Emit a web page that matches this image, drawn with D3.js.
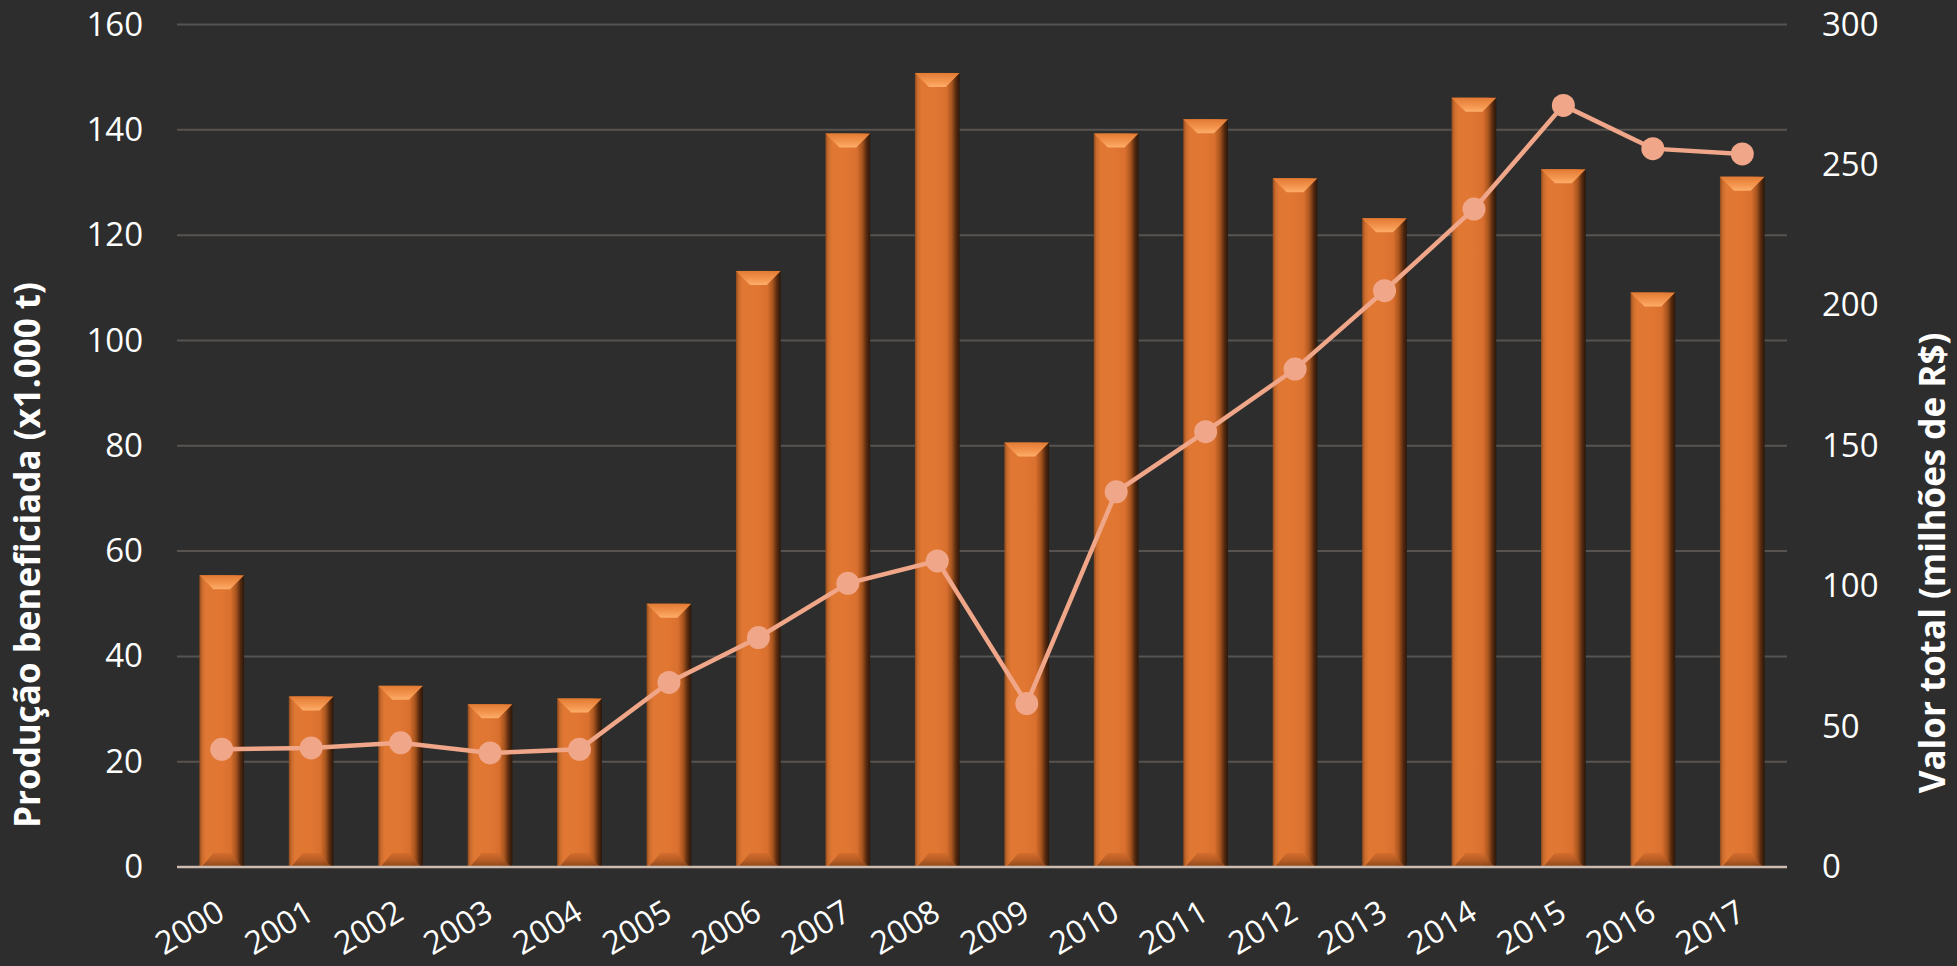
<!DOCTYPE html>
<html>
<head>
<meta charset="utf-8">
<script src="https://cdn.jsdelivr.net/npm/d3@7"></script>
<style>
  html, body { margin: 0; padding: 0; background: #2d2d2d; }
  svg { display: block; }
</style>
</head>
<body>
<div id="chart"></div>
<script>
  // data
  const years = ["2000","2001","2002","2003","2004","2005","2006","2007","2008",
                 "2009","2010","2011","2012","2013","2014","2015","2016","2017"];
  const producao = [55.4, 32.4, 34.4, 30.9, 32.0, 50.0, 113.2, 139.3, 150.8,
                    80.6, 139.3, 142.0, 130.8, 123.2, 146.1, 132.5, 109.1, 131.1];
  const valor = [41.9, 42.4, 44.2, 40.6, 41.9, 65.7, 81.7, 101.0, 109.0,
                 58.2, 133.6, 155.0, 177.3, 205.2, 234.3, 271.2, 255.8, 253.9];
  const leftTicks = [0, 20, 40, 60, 80, 100, 120, 140, 160];
  const rightTicks = [0, 50, 100, 150, 200, 250, 300];

  const W = 1957, H = 966;
  const margin = {top: 24.5, right: 170, bottom: 99, left: 177};
  const width = W - margin.left - margin.right,
        height = H - margin.top - margin.bottom;

  const font = "'Open Sans', 'Noto Sans', sans-serif";

  const svgRoot = d3.select("#chart")
    .append("svg")
      .attr("width", W)
      .attr("height", H);

  svgRoot.append("rect")
    .attr("width", W).attr("height", H)
    .attr("fill", "#2d2d2d");

  // gradients for the bevelled bars
  const defs = svgRoot.append("defs");
  const side = defs.append("linearGradient").attr("id", "barSide")
    .attr("x1", "0").attr("x2", "1").attr("y1", "0").attr("y2", "0");
  [[0, "#8f4a1c"], [0.06, "#c96b2d"], [0.15, "#e07833"], [0.5, "#e07632"],
   [0.7, "#da702f"], [0.82, "#a8551e"], [0.92, "#55290f"], [1, "#2a170a"]]
    .forEach(s => side.append("stop").attr("offset", s[0]).attr("stop-color", s[1]));

  const topG = defs.append("linearGradient").attr("id", "barTop")
    .attr("x1", "0").attr("x2", "0").attr("y1", "0").attr("y2", "1");
  [[0, "#e27a33"], [0.6, "#f4964f"], [1, "#fdae6a"]]
    .forEach(s => topG.append("stop").attr("offset", s[0]).attr("stop-color", s[1]));

  const botG = defs.append("linearGradient").attr("id", "barBot")
    .attr("x1", "0").attr("x2", "0").attr("y1", "0").attr("y2", "1");
  [[0, "#d06b2c"], [0.5, "#b25a24"], [1, "#7e3f17"]]
    .forEach(s => botG.append("stop").attr("offset", s[0]).attr("stop-color", s[1]));

  const svg = svgRoot.append("g")
    .attr("transform", `translate(${margin.left},${margin.top})`);

  // scales
  const x = d3.scaleBand()
    .domain(years)
    .range([0, width])
    .paddingInner(0.5)
    .paddingOuter(0.25);

  const y = d3.scaleLinear().domain([0, 160]).range([height, 0]);
  const y2 = d3.scaleLinear().domain([0, 300]).range([height, 0]);

  // gridlines
  svg.append("g")
    .selectAll("line")
    .data(leftTicks.filter(d => d > 0))
    .join("line")
      .attr("x1", 0).attr("x2", width)
      .attr("y1", d => y(d)).attr("y2", d => y(d))
      .attr("stroke", "#575350")
      .attr("stroke-width", 2);

  // left axis
  const yAxis = svg.append("g")
    .call(d3.axisLeft(y).tickValues(leftTicks).tickSize(0).tickPadding(34));
  yAxis.select(".domain").remove();
  yAxis.selectAll("text")
    .attr("fill", "#ffffff")
    .style("font-family", font)
    .style("font-size", "33px");

  // right axis
  const y2Axis = svg.append("g")
    .attr("transform", `translate(${width},0)`)
    .call(d3.axisRight(y2).tickValues(rightTicks).tickSize(0).tickPadding(35));
  y2Axis.select(".domain").remove();
  y2Axis.selectAll("text")
    .attr("fill", "#ffffff")
    .style("font-family", font)
    .style("font-size", "33px");

  // bars
  const bev = 14;
  const bw = x.bandwidth();
  const bars = svg.append("g")
    .selectAll("g")
    .data(years.map((yr, i) => ({yr, v: producao[i]})))
    .join("g");

  bars.append("rect")
    .attr("x", d => x(d.yr))
    .attr("y", d => y(d.v))
    .attr("width", bw)
    .attr("height", d => height - y(d.v))
    .attr("fill", "url(#barSide)");

  bars.append("path")
    .attr("d", d => {
      const x0 = x(d.yr), x1 = x0 + bw, t = y(d.v);
      return `M${x0},${t}L${x1},${t}L${x1 - bev},${t + bev}L${x0 + bev},${t + bev}Z`;
    })
    .attr("fill", "url(#barTop)");

  bars.append("path")
    .attr("d", d => {
      const x0 = x(d.yr), x1 = x0 + bw, b = height;
      return `M${x0 + 2},${b}L${x1 - 2},${b}L${x1 - bev},${b - bev}L${x0 + bev},${b - bev}Z`;
    })
    .attr("fill", "url(#barBot)")
    .attr("opacity", 0.85);

  // x axis baseline
  svg.append("line")
    .attr("x1", 0).attr("x2", width)
    .attr("y1", height).attr("y2", height)
    .attr("stroke", "#cdbcb0")
    .attr("stroke-width", 2.5);

  // x labels
  svg.append("g")
    .selectAll("text")
    .data(years)
    .join("text")
      .attr("transform", d => `translate(${x(d) + bw / 2 + 5},${height + 51}) rotate(-31)`)
      .attr("text-anchor", "end")
      .attr("fill", "#ffffff")
      .style("font-family", font)
      .style("font-size", "32px")
      .text(d => d);

  // line series on right axis
  const lineData = years.map((yr, i) => ({yr, v: valor[i]}));
  const line = d3.line()
    .x(d => x(d.yr) + bw / 2)
    .y(d => y2(d.v));

  svg.append("path")
    .datum(lineData)
    .attr("d", line)
    .attr("fill", "none")
    .attr("stroke", "#f0a688")
    .attr("stroke-width", 4.5);

  svg.append("g")
    .selectAll("circle")
    .data(lineData)
    .join("circle")
      .attr("cx", d => x(d.yr) + bw / 2)
      .attr("cy", d => y2(d.v))
      .attr("r", 11.5)
      .attr("fill", "#f0a688");

  // axis titles
  svgRoot.append("text")
    .attr("transform", "translate(40,555) rotate(-90)")
    .attr("text-anchor", "middle")
    .attr("fill", "#ffffff")
    .style("font-family", font)
    .style("font-weight", "bold")
    .style("font-size", "35px")
    .text("Produção beneficiada (x1.000 t)");

  svgRoot.append("text")
    .attr("transform", "translate(1945,563) rotate(-90)")
    .attr("text-anchor", "middle")
    .attr("fill", "#ffffff")
    .style("font-family", font)
    .style("font-weight", "bold")
    .style("font-size", "35px")
    .text("Valor total (milhões de R$)");
</script>
</body>
</html>
